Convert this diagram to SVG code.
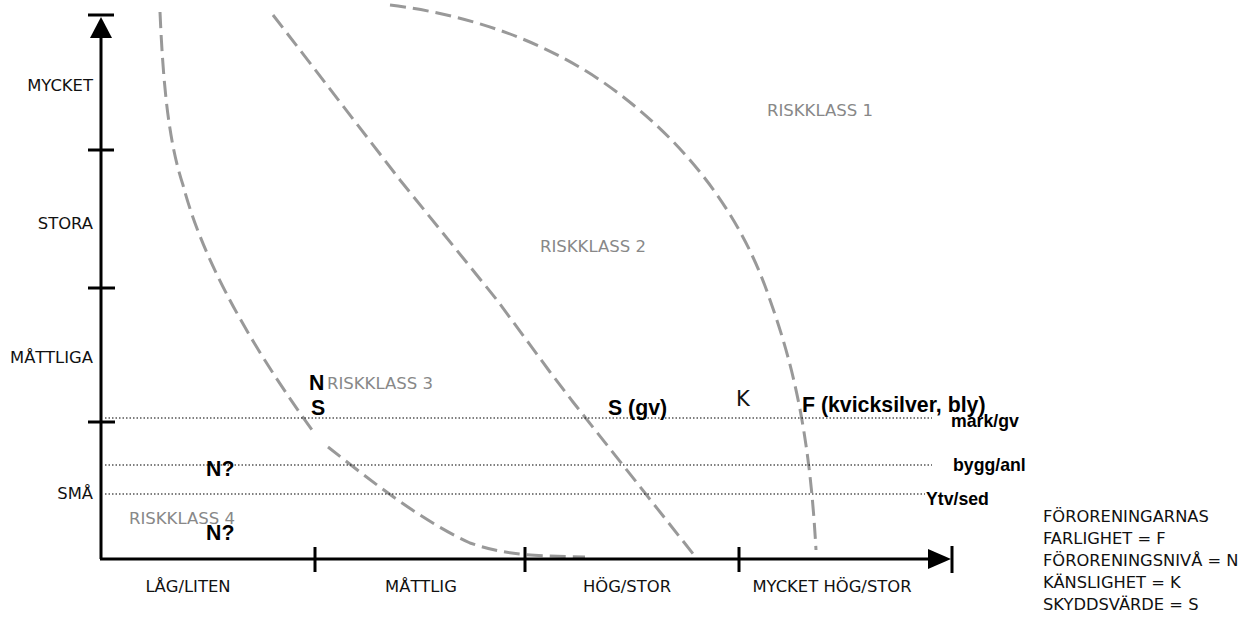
<svg xmlns="http://www.w3.org/2000/svg" width="1244" height="617" viewBox="0 0 1244 617">
  <style>
    .axis { stroke: #000; stroke-width: 3; fill: none; }
    .tick { stroke: #000; stroke-width: 3; }
    .level { stroke: #000; stroke-width: 1.2; stroke-dasharray: 1.5 2; fill: none; }
    .bound { stroke: #999; stroke-width: 3; stroke-dasharray: 16 7; fill: none; stroke-linecap: butt; }
    .lbl { font-family: "DejaVu Sans", Verdana, sans-serif; font-size: 16.4px; fill: #111; }
    .risk { font-family: "DejaVu Sans", Verdana, sans-serif; font-size: 16.5px; fill: #888; }
    .mark { font-family: "Liberation Sans", Arial, sans-serif; font-weight: bold; font-size: 21.3px; fill: #000; }
    .medium { font-family: "Liberation Sans", Arial, sans-serif; font-weight: bold; font-size: 17.7px; fill: #000; }
    .legend { font-family: "DejaVu Sans", Verdana, sans-serif; font-size: 16.3px; fill: #111; }
  </style>

  <!-- risk class boundaries -->
  <g id="boundaries">
    <path class="bound" d="M160,12 C163,80 168,140 183,185 C200,250 240,330 312,430 M328,447 C370,480 420,520 470,543 C500,553 520,556 585,557"/>
    <path class="bound" d="M273,15 L400,180 L497,300 L550,372 L573,402 L694,555"/>
    <path class="bound" d="M390,5 C470,15 540,40 600,80 C680,135 740,210 770,300 C795,370 810,440 816,550"/>
  </g>

  <!-- medium level lines -->
  <g id="levels">
    <line class="level" x1="105" y1="418" x2="932" y2="418"/>
    <line class="level" x1="105" y1="465" x2="932" y2="465"/>
    <line class="level" x1="105" y1="494" x2="925" y2="494"/>
  </g>

  <!-- axes -->
  <g id="connectors">
    <line class="axis" x1="101" y1="559" x2="101" y2="36"/>
    <polygon points="101,17 90,38 112,38" fill="#000"/>
    <line class="axis" x1="100" y1="559" x2="930" y2="559"/>
    <polygon points="951,559 928,549 928,569" fill="#000"/>
    <line class="tick" x1="952" y1="546" x2="952" y2="573"/>
    <line class="tick" x1="88" y1="15" x2="114" y2="15"/>
    <line class="tick" x1="88" y1="150" x2="114" y2="150"/>
    <line class="tick" x1="88" y1="288" x2="115" y2="288"/>
    <line class="tick" x1="88" y1="422" x2="115" y2="422"/>
    <line class="tick" x1="315" y1="547" x2="315" y2="572"/>
    <line class="tick" x1="525" y1="547" x2="525" y2="572"/>
    <line class="tick" x1="739" y1="547" x2="739" y2="572"/>
  </g>

  <!-- y axis labels -->
  <g id="y-labels" class="lbl" text-anchor="end">
    <text x="93" y="91">MYCKET</text>
    <text x="93" y="229">STORA</text>
    <text x="93" y="363">MÅTTLIGA</text>
    <text x="93" y="499">SMÅ</text>
  </g>

  <!-- x axis labels -->
  <g id="x-labels" class="lbl" text-anchor="middle">
    <text x="188" y="592">LÅG/LITEN</text>
    <text x="421" y="592">MÅTTLIG</text>
    <text x="627" y="592">HÖG/STOR</text>
    <text x="832" y="592">MYCKET HÖG/STOR</text>
  </g>

  <!-- risk classes -->
  <g id="risk-classes" class="risk">
    <text x="767" y="116">RISKKLASS 1</text>
    <text x="540" y="252">RISKKLASS 2</text>
    <text x="327" y="389">RISKKLASS 3</text>
    <text x="129" y="524">RISKKLASS 4</text>
  </g>

  <!-- placed factors -->
  <g id="factors">
    <text class="mark" x="309" y="390">N</text>
    <text class="mark" x="311" y="415">S</text>
    <text class="mark" x="608" y="415">S (gv)</text>
    <text x="736" y="406" font-family="DejaVu Sans, Verdana, sans-serif" font-size="21" fill="#111">K</text>
    <text class="mark" x="802" y="412">F (kvicksilver, bly)</text>
    <text class="mark" x="206" y="476">N?</text>
    <text class="mark" x="206" y="540">N?</text>
  </g>

  <!-- medium labels -->
  <g id="media" class="medium">
    <text x="951" y="427">mark/gv</text>
    <text x="953" y="471">bygg/anl</text>
    <text x="926" y="505">Ytv/sed</text>
  </g>

  <!-- legend -->
  <g id="legend" class="legend">
    <text x="1043" y="522">FÖRORENINGARNAS</text>
    <text x="1043" y="544">FARLIGHET = F</text>
    <text x="1043" y="566">FÖRORENINGSNIVÅ = N</text>
    <text x="1043" y="588">KÄNSLIGHET = K</text>
    <text x="1043" y="610">SKYDDSVÄRDE = S</text>
  </g>
</svg>
